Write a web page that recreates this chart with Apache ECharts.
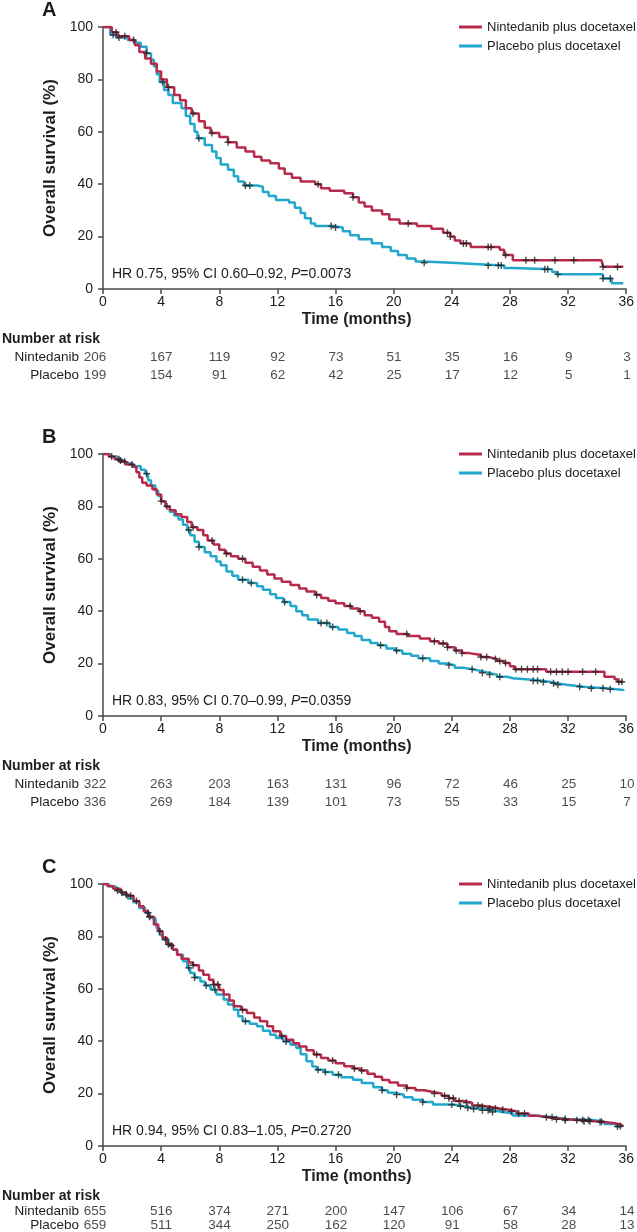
<!DOCTYPE html>
<html><head><meta charset="utf-8">
<script src="https://cdn.jsdelivr.net/npm/echarts/dist/echarts.min.js"></script>
<style>html,body{margin:0;padding:0;background:#fff}#chart{width:637px;height:1232px}</style>
</head><body><div id="chart"></div>
<script>
// ---------- DATA ----------
const monthTicks = [0,4,8,12,16,20,24,28,32,36];
const seriesNames = ['Nintedanib plus docetaxel','Placebo plus docetaxel'];
const riskRowLabels = ['Nintedanib','Placebo'];

// Panel A
const A_nin = [[0,100],[0.6,98],[1.0,96.5],[1.8,95],[2.2,93],[2.5,90.5],[2.9,88],[3.3,86],[3.7,83],[4.0,80],[4.4,77],[4.9,74],[5.3,72],[5.7,69],[6.1,67],[6.6,64],[7.0,61.5],[7.4,59.5],[8.0,58],[8.6,56],[9.2,54],[9.8,52.5],[10.4,50.5],[10.9,49],[11.5,48],[12.1,46],[12.5,44],[13.0,42.5],[13.6,41],[14.6,40],[15.0,38.5],[15.6,37.5],[16.6,36.5],[17.2,35],[17.6,33],[18.0,31.5],[18.5,30],[19.2,28.5],[19.7,26.5],[20.4,25],[21.6,24],[22.6,23],[23.4,21.5],[23.9,20],[24.2,18.5],[24.6,17.4],[25.3,16],[27.3,15],[27.6,13],[28.2,11],[34.3,11],[34.4,8.5],[35.8,8.5]];
const A_pla = [[0,100],[0.5,97],[0.9,96],[1.7,95],[2.2,94],[2.6,92.5],[3.0,90],[3.3,87.5],[3.5,85],[3.7,82],[3.9,79],[4.2,76],[4.5,74],[4.8,71],[5.4,69],[5.7,66],[6.0,63],[6.3,60],[6.5,57.5],[7.0,55],[7.5,52.5],[7.8,50],[8.1,47.5],[8.6,45.5],[9.0,43],[9.3,41],[9.7,39.5],[10.6,39],[11.0,37],[11.4,35.5],[11.9,34],[12.8,33],[13.2,31],[13.6,29],[13.9,27],[14.3,25],[14.6,24],[15.9,23.5],[16.5,22],[17.0,20.5],[17.6,19],[18.5,17.5],[19.2,16],[19.8,14.5],[20.3,13],[20.9,11.6],[21.5,10.5],[22.0,10],[24.0,9.3],[26.5,9.0],[27.6,8],[28.2,7.5],[30.9,6.5],[31.2,5.6],[34.2,5.6],[34.4,4],[35.0,2.2],[35.8,2.2]];
const A_ninCens = [0.9,1.5,2.1,4.5,6.2,7.5,8.6,14.8,17.2,21.0,23.7,23.9,24.8,25.0,26.5,26.7,27.7,29.1,29.7,31.1,32.4,34.4,35.4];
const A_plaCens = [0.7,1.1,3.0,4.1,6.6,9.8,10.1,15.7,16.0,22.1,26.5,27.2,27.4,30.4,30.6,31.3,34.4,34.9];
const A_riskNin = [206,167,119,92,73,51,35,16,9,3];
const A_riskPla = [199,154,91,62,42,25,17,12,5,1];
const A_hr = ['0.75','0.60–0.92','0.0073'];

// Panel B
const B_nin = [[0,100],[0.4,99],[0.8,98],[1.2,97],[1.6,96],[2.1,95],[2.3,93],[2.5,91],[2.7,89],[3.0,88],[3.4,86.5],[3.7,84.5],[4.0,82],[4.3,80],[4.6,78.5],[5.0,77],[5.4,76],[5.8,74],[6.1,72],[6.5,71],[6.9,69],[7.2,67],[7.6,65.5],[8.0,63.5],[8.4,62],[8.8,61],[9.3,60],[9.8,58.5],[10.3,57],[10.8,55.5],[11.3,54],[11.8,52.5],[12.3,51.2],[12.9,50],[13.5,48.7],[14.0,47.5],[14.6,46.3],[15.0,45],[15.5,44],[16.0,43],[16.6,42],[17.1,41],[17.6,40],[18.0,38.5],[18.5,37.5],[19.0,36],[19.4,34],[19.7,32.3],[20.2,31.3],[21.0,30.5],[21.8,29.6],[22.5,28.5],[23.1,27.7],[23.7,26.2],[24.2,25],[24.7,24],[25.2,23.3],[26.0,22.5],[26.5,21.8],[27.1,21],[27.6,20.2],[28.0,19],[28.3,17.8],[30.5,16.9],[34.3,16.9],[34.5,15],[35.2,14],[35.4,13.1],[35.8,13.1]];
const B_pla = [[0,100],[0.5,99],[1.0,97.5],[1.5,96.5],[2.0,95.3],[2.6,94],[2.9,92.5],[3.1,90],[3.3,88],[3.6,86],[3.8,84],[4.0,82],[4.3,80],[4.6,78],[4.9,76.5],[5.2,75],[5.5,73],[5.8,71],[6.0,69],[6.3,66.5],[6.6,64.5],[7.0,62.5],[7.4,61],[7.8,59],[8.1,57.5],[8.5,55.2],[8.9,53.5],[9.3,52],[10.0,50.8],[10.6,49.5],[11.0,48.2],[11.5,46.5],[11.9,45],[12.4,43.5],[12.9,42],[13.3,40],[13.7,38.5],[14.1,36.8],[14.8,35.5],[15.6,34],[16.2,33],[16.8,31.7],[17.3,30.5],[17.8,29],[18.4,27.9],[18.9,27],[19.5,25.8],[20.1,25],[20.6,23.8],[21.2,23],[21.7,22],[22.5,21],[23.1,20],[23.7,19.4],[24.2,18.4],[24.8,17.8],[25.5,17.2],[26.0,16.5],[26.5,15.8],[27.1,15],[27.8,14.4],[28.2,13.9],[29.3,13.5],[30.2,13],[30.8,12.5],[31.2,11.9],[31.9,11.2],[33.0,10.6],[34.6,10.2],[35.3,9.9],[35.8,9.5]];
const B_ninCens = [0.6,1.1,1.5,2.0,4.0,4.4,6.2,7.5,8.5,9.6,14.7,17.0,17.7,20.9,22.8,23.4,23.7,24.3,24.7,26.0,26.4,27.0,27.3,27.7,28.4,28.8,29.2,29.6,29.9,30.8,31.2,31.6,32.0,33.0,33.9,35.5,35.7];
const B_plaCens = [1.2,3.0,5.9,6.6,9.6,10.2,12.5,15.0,15.4,15.8,19.1,20.2,22.0,23.8,25.4,26.1,26.6,27.3,29.6,29.9,30.3,31.0,31.3,32.8,33.6,34.4,34.9];
const B_riskNin = [322,263,203,163,131,96,72,46,25,10];
const B_riskPla = [336,269,184,139,101,73,55,33,15,7];
const B_hr = ['0.83','0.70–0.99','0.0359'];

// Panel C
const C_nin = [[0,100],[0.3,99.2],[0.7,98.2],[1.2,96.8],[1.6,95.5],[2.1,93.5],[2.5,91.5],[2.8,89.6],[3.1,87.5],[3.5,84.5],[3.8,82],[4.1,79.5],[4.4,77],[4.8,75],[5.1,73],[5.4,71.5],[5.9,70],[6.2,69],[6.6,67],[6.9,65.4],[7.3,63.5],[7.6,61.6],[8.0,59.5],[8.3,57.8],[8.7,55.5],[9.0,53.3],[9.5,52],[9.9,50.8],[10.4,49],[10.8,47.6],[11.3,45.7],[11.7,43.8],[12.2,42],[12.6,40.6],[13.1,39.2],[13.5,38],[14.0,36.5],[14.5,34.9],[15.0,33.6],[15.5,32.6],[16.0,31.6],[16.6,30.4],[17.2,29.6],[17.7,28.8],[18.2,27.6],[18.7,26.4],[19.2,25.2],[19.7,24.2],[20.3,23.1],[20.9,22.1],[21.5,21.3],[22.1,20.6],[22.7,20],[23.3,19.2],[23.8,18.2],[24.2,17.2],[24.8,16.5],[25.4,15.5],[26.0,15],[26.6,14.3],[27.3,13.8],[27.9,13.2],[28.5,12.4],[29.3,11.5],[30.0,10.8],[30.8,10.2],[31.8,9.8],[32.9,9.4],[33.8,9.2],[34.5,8.7],[35.2,8.2],[35.6,7.6],[35.8,7.4]];
const C_pla = [[0,100],[0.4,99],[0.9,97.5],[1.3,96],[1.7,94.5],[2.1,93],[2.5,90.8],[2.9,89],[3.2,87],[3.6,86.4],[3.7,83],[3.9,80.5],[4.1,78.8],[4.5,76.5],[4.8,74.9],[5.1,73],[5.5,70.5],[5.8,68],[6.0,66],[6.3,64.3],[6.7,62.8],[7.0,61.3],[7.4,59.7],[7.8,57.8],[8.3,55.9],[8.6,54],[9.0,52],[9.3,49.5],[9.6,47.6],[10.1,46.7],[10.6,45.7],[11.0,44],[11.5,42.5],[11.9,41.2],[12.4,39.9],[12.9,38.6],[13.3,37.4],[13.6,35],[14.0,32.3],[14.4,30.3],[14.7,29.1],[15.2,28.2],[15.8,27.2],[16.4,26.2],[17.2,25.3],[17.8,24],[18.6,22.4],[19.2,21.3],[19.6,20.3],[20.0,19.6],[20.7,18.6],[21.3,17.7],[22.0,16.8],[22.7,15.8],[24.1,15.2],[24.8,14.6],[25.4,14.1],[26.1,13.6],[26.8,13.0],[27.5,12.5],[28.2,11.6],[29.6,11],[31.0,10.3],[31.9,9.9],[33.7,9.3],[34.5,8.4],[35.3,7.4],[35.6,7.0]];
const C_ninCens = [1.3,1.9,2.3,3.2,3.9,4.5,6.2,7.6,7.9,9.6,12.3,14.7,15.8,17.3,17.8,20.9,22.8,23.5,23.8,24.1,24.5,25.0,25.8,26.1,26.6,27.0,27.5,28.1,28.6,29.0,31.2,31.8,32.6,33.1,33.5,34.2,35.6];
const C_plaCens = [1.0,1.6,3.1,4.3,4.7,5.9,6.3,7.1,7.7,9.8,12.6,14.8,15.3,16.2,19.2,20.2,22.0,24.0,24.6,25.1,25.5,26.1,26.5,26.8,30.5,30.9,31.8,33.0,33.4,34.3,35.4];
const C_riskNin = [655,516,374,271,200,147,106,67,34,14];
const C_riskPla = [659,511,344,250,162,120,91,58,28,13];
const C_hr = ['0.94','0.83–1.05','0.2720'];

// ---------- STYLE / LAYOUT ----------
const FONT = 'Arial, "Liberation Sans", Helvetica, sans-serif';
const TXT = '#1e1c1d';
const AXC = '#4a4a4a';
const RED = '#b72a4b';
const BLUE = '#22a8cc';
const PLOT_LEFT = 103, PLOT_W = 524, PLOT_H = 262;

const panels = [
  {letter:'A', top:27, nin:A_nin, pla:A_pla, ninC:A_ninCens, plaC:A_plaCens, rN:A_riskNin, rP:A_riskPla, hr:A_hr},
  {letter:'B', top:454, nin:B_nin, pla:B_pla, ninC:B_ninCens, plaC:B_plaCens, rN:B_riskNin, rP:B_riskPla, hr:B_hr},
  {letter:'C', top:884, nin:C_nin, pla:C_pla, ninC:C_ninCens, plaC:C_plaCens, rN:C_riskNin, rP:C_riskPla, hr:C_hr}
];

function stepAt(curve, t) {
  let v = curve[0][1];
  for (const [x, y] of curve) { if (x <= t) v = y; else break; }
  return v;
}

const PLUS = 'path://M2.4,0H3.6V2.4H6V3.6H3.6V6H2.4V3.6H0V2.4H2.4Z';

const grid = [], xAxis = [], yAxis = [], series = [], legend = [], graphic = [];
panels.forEach((p, i) => {
  const axisBottom = p.top + PLOT_H;
  grid.push({left: PLOT_LEFT, top: p.top, width: PLOT_W, height: PLOT_H, containLabel: false});
  grid.push({left: PLOT_LEFT, top: axisBottom + 59, width: PLOT_W, height: 36, containLabel: false});
  const g = 2 * i, r = 2 * i + 1;
  xAxis.push({gridIndex: g, type: 'value', min: 0, max: 36, interval: 4,
    axisLine: {show: true, onZero: false, lineStyle: {color: AXC, width: 1.5}},
    axisTick: {show: true, length: 5, lineStyle: {color: AXC, width: 1.5}},
    axisLabel: {fontSize: 14, color: TXT, margin: 6, fontFamily: FONT},
    splitLine: {show: false},
    name: 'Time (months)', nameLocation: 'middle', nameGap: 23,
    nameTextStyle: {fontSize: 16, fontWeight: 'bold', color: TXT, fontFamily: FONT, padding: [0, 16, 0, 0]}});
  yAxis.push({gridIndex: g, type: 'value', min: 0, max: 100, interval: 20,
    axisLine: {show: true, lineStyle: {color: AXC, width: 1.5}},
    axisTick: {show: true, length: 5, lineStyle: {color: AXC, width: 1.5}},
    axisLabel: {fontSize: 14, color: TXT, margin: 10, fontFamily: FONT},
    splitLine: {show: false},
    name: 'Overall survival (%)', nameLocation: 'middle', nameGap: 40,
    nameTextStyle: {fontSize: 17, fontWeight: 'bold', color: TXT, fontFamily: FONT}});
  xAxis.push({gridIndex: r, type: 'value', min: 0, max: 36, show: false});
  yAxis.push({gridIndex: r, type: 'category', data: riskRowLabels, inverse: true,
    axisLine: {show: false}, axisTick: {show: false}, splitLine: {show: false},
    axisLabel: {interval: 0, fontSize: 13.5, color: TXT, margin: 24, fontFamily: FONT}});

  series.push({type: 'line', name: seriesNames[1], xAxisIndex: g, yAxisIndex: g, step: 'end',
    symbol: 'none', data: p.pla, lineStyle: {color: BLUE, width: 2.5}, itemStyle: {color: BLUE}, z: 2, silent: true});
  series.push({type: 'line', name: seriesNames[0], xAxisIndex: g, yAxisIndex: g, step: 'end',
    symbol: 'none', data: p.nin, lineStyle: {color: RED, width: 2.5}, itemStyle: {color: RED}, z: 3, silent: true});
  series.push({type: 'scatter', name: 'censored-pla-' + p.letter, xAxisIndex: g, yAxisIndex: g,
    symbol: PLUS, symbolSize: 7, itemStyle: {color: '#222'}, z: 5, silent: true,
    data: p.plaC.map(t => [t, stepAt(p.pla, t)])});
  series.push({type: 'scatter', name: 'censored-nin-' + p.letter, xAxisIndex: g, yAxisIndex: g,
    symbol: PLUS, symbolSize: 7, itemStyle: {color: '#222'}, z: 5, silent: true,
    data: p.ninC.map(t => [t, stepAt(p.nin, t)])});
  [[p.rN, riskRowLabels[0]], [p.rP, riskRowLabels[1]]].forEach(([arr, row]) => {
    series.push({type: 'scatter', name: 'risk-' + row + '-' + p.letter, xAxisIndex: r, yAxisIndex: r,
      symbolSize: 1, itemStyle: {color: 'rgba(0,0,0,0)'}, silent: true,
      label: {show: true, position: 'inside', formatter: q => String(q.value[2]),
        fontSize: 13.5, color: TXT, fontFamily: FONT},
      data: arr.map((v, j) => ({value: [monthTicks[j], row, v],
        label: j === 0 ? {offset: [-8, 0]} : {}}))});
  });

  legend.push({orient: 'vertical', left: 459, top: p.top - 7.5, itemWidth: 23, itemHeight: 3, itemGap: 4,
    icon: 'rect', selectedMode: false, data: seriesNames, padding: 0,
    textStyle: {fontSize: 13, color: TXT, fontFamily: FONT, lineHeight: 15}});

  graphic.push({type: 'text', x: 42, y: p.top - 17, silent: true,
    style: {text: p.letter, font: 'bold 20px ' + FONT, fill: TXT, textAlign: 'left', textVerticalAlign: 'middle', align: 'left', verticalAlign: 'middle'}});
  graphic.push({type: 'text', x: 112, y: axisBottom - 15, silent: true,
    style: {text: 'HR ' + p.hr[0] + ', 95% CI ' + p.hr[1] + ', {i|P}=' + p.hr[2],
      font: '14px ' + FONT, fill: TXT, textVerticalAlign: 'middle', verticalAlign: 'middle',
      rich: {i: {fontStyle: 'italic', fontSize: 14, fontFamily: FONT, fill: TXT, color: TXT}}}});
  graphic.push({type: 'text', x: 2, y: axisBottom + 50, silent: true,
    style: {text: 'Number at risk', font: 'bold 14px ' + FONT, fill: TXT, textVerticalAlign: 'middle', verticalAlign: 'middle'}});
});

const chart = echarts.init(document.getElementById('chart'), null, {renderer: 'canvas'});
chart.setOption({backgroundColor: '#ffffff', animation: false, grid, xAxis, yAxis, series, legend, graphic});
</script></body></html>
